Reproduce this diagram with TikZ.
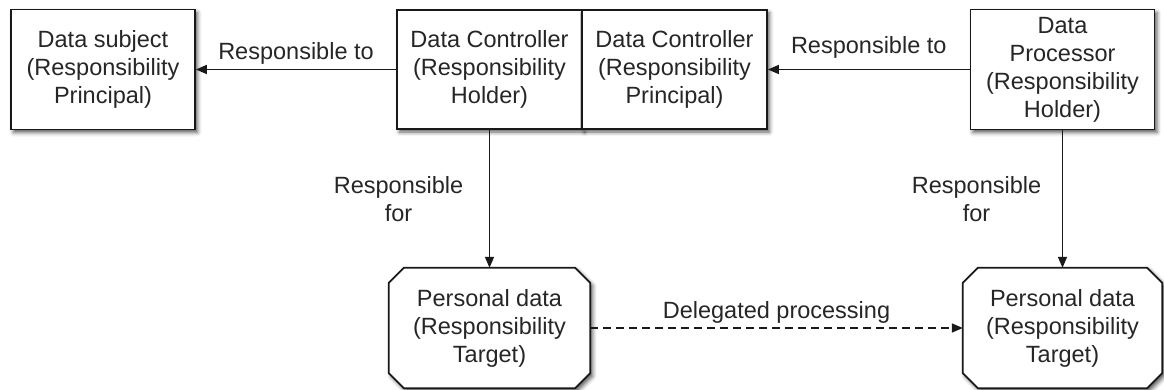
\documentclass[tikz,border=0pt]{standalone}
\usepackage{fontspec}
\setmainfont{Liberation Sans}
\usetikzlibrary{arrows.meta,shadows.blur,backgrounds}
\begin{document}
\begin{tikzpicture}[x=1pt,y=-1pt,
  txt/.style={font=\fontsize{23.5}{28}\selectfont, align=center, text=black!85, inner sep=0pt},
  shadowed/.style={blur shadow={shadow xshift=2.5pt, shadow yshift=-3pt, shadow blur radius=4pt, shadow opacity=65}},
  box/.style={txt, draw=black!90, line width=1.7pt, fill=white, minimum width=184pt, minimum height=120pt, shadowed},
  oct/.style={draw=black!90, line width=1.7pt, fill=white, shadowed},
  conn/.style={line width=1.6pt, draw=black!90, -{Triangle[length=11pt,width=9pt]}},
  lbl/.style={txt}
]
\useasboundingbox (0,0) rectangle (1164,390);

\node[box] (subj) at (103,69.5) {Data subject\\(Responsibility\\Principal)};
\node[box, minimum width=185pt, minimum height=119pt] (dch) at (489.5,69.5) {Data Controller\\(Responsibility\\Holder)};
\node[box, minimum width=185pt, minimum height=119pt] (dcp) at (674.5,69.5) {Data Controller\\(Responsibility\\Principal)};
\node[box] (proc) at (1062.5,69.5) {Data\\Processor\\(Responsibility\\Holder)};

\node[txt, minimum width=201pt, minimum height=120pt] (pd1) at (489.5,328) {Personal data\\(Responsibility\\Target)};
\node[txt, minimum width=199pt, minimum height=120pt] (pd2) at (1062.5,328) {Personal data\\(Responsibility\\Target)};

\begin{scope}[on background layer]
\foreach \n in {pd1,pd2}{
  \draw[oct] ([xshift=15pt]\n.north west) -- ([xshift=-15pt]\n.north east)
    -- ([yshift=-15pt]\n.north east) -- ([yshift=15pt]\n.south east)
    -- ([xshift=-15pt]\n.south east) -- ([xshift=15pt]\n.south west)
    -- ([yshift=15pt]\n.south west) -- ([yshift=-15pt]\n.north west) -- cycle;
}
\end{scope}

\draw[conn] (dch.west) -- node[lbl, midway, yshift=16.5pt] {Responsible to} (subj.east);
\draw[conn] (proc.west) -- node[lbl, midway, yshift=22pt] {Responsible to} (dcp.east);
\draw[conn] (dch.south) -- node[lbl, midway, xshift=-91pt] {Responsible\\for} (pd1.north);
\draw[conn] (proc.south) -- node[lbl, midway, xshift=-86pt] {Responsible\\for} (pd2.north);
\draw[conn, dash pattern=on 8pt off 5pt] (pd1.east) -- node[lbl, midway, yshift=16pt] {Delegated processing} (pd2.west);
\end{tikzpicture}
\end{document}
